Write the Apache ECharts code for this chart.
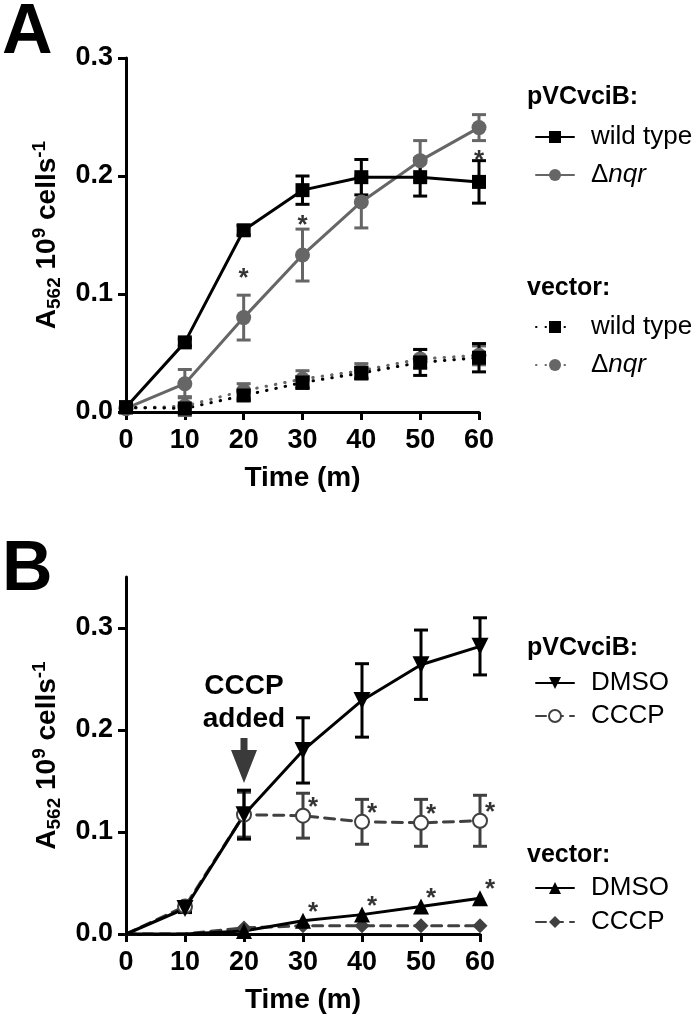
<!DOCTYPE html>
<html>
<head>
<meta charset="utf-8">
<script src="https://cdn.jsdelivr.net/npm/echarts@6/dist/echarts.min.js"></script>
<style>
  html, body { margin: 0; padding: 0; background: #fff; }
  #chart { width: 700px; height: 1020px; }
</style>
</head>
<body>
<div id="chart"></div>
<script>
/* ---------- data ---------- */
const times = [0, 10, 20, 30, 40, 50, 60];
const yTicks = [0, 0.1, 0.2, 0.3];

// panel A
const aPlasWt     = [0.004, 0.059, 0.154, 0.188, 0.199, 0.199, 0.195];
const aPlasWtErr  = [0.002, 0.003, 0.004, 0.012, 0.015, 0.016, 0.018];
const aPlasNqr    = [0.003, 0.024, 0.080, 0.133, 0.178, 0.213, 0.241];
const aPlasNqrErr = [0.002, 0.012, 0.019, 0.022, 0.022, 0.017, 0.011];
const aVecWt      = [0.004, 0.003, 0.014, 0.025, 0.033, 0.042, 0.046];
const aVecWtErr   = [0.002, 0.002, 0.004, 0.005, 0.005, 0.011, 0.012];
const aVecNqr     = [0.003, 0.005, 0.018, 0.028, 0.035, 0.045, 0.048];
const aVecNqrErr  = [0.002, 0.008, 0.006, 0.007, 0.006, 0.008, 0.008];
const starsA      = [[20, 0.119], [30, 0.164], [60, 0.219]];

// panel B
const bPlasDmso     = [0, 0.025, 0.117, 0.180, 0.229, 0.264, 0.282];
const bPlasDmsoErr  = [0, 0.004, 0.024, 0.032, 0.036, 0.034, 0.028];
const bPlasCccp     = [0, 0.027, 0.117, 0.116, 0.110, 0.109, 0.111];
const bPlasCccpErr  = [0, 0.004, 0.022, 0.022, 0.022, 0.023, 0.025];
const bVecDmso      = [0, 0, 0.003, 0.013, 0.019, 0.027, 0.035];
const bVecCccp      = [0, 0, 0.006, 0.008, 0.008, 0.008, 0.008];
const starIdxB      = [3, 4, 5, 6];          // 30..60 min marked *
const arrowAt       = [20, 0.170];           // "CCCP added" arrow

const legendNames = {
  pWT: 'wild type', pNqr: '{d|Δ}{i|nqr}', vWT: 'wild type', vNqr: '{d|Δ}{i|nqr}',
  bpD: 'DMSO', bpC: 'CCCP', bvD: 'DMSO', bvC: 'CCCP'
};

/* ---------- helpers ---------- */
const FONT = '"Liberation Sans", Arial, Helvetica, sans-serif';
const BLACK = '#000', GREY = '#666', DGREY = '#404040';

function pts(vals, hideZero) {
  return times.map((t, i) => (hideZero && vals[i] === 0)
    ? { value: [t, vals[i]], symbol: 'none' }
    : [t, vals[i]]);
}

function errSeries(vals, errs, color, grid) {
  const data = times.map((t, i) => [t, vals[i] - errs[i], vals[i] + errs[i], errs[i]])
                    .filter(d => d[3] > 0.0025);
  return {
    type: 'custom', xAxisIndex: grid, yAxisIndex: grid, z: 1, silent: true,
    encode: { x: 0, y: [1, 2] }, data,
    renderItem: (params, api) => {
      const lo = api.coord([api.value(0), api.value(1)]);
      const hi = api.coord([api.value(0), api.value(2)]);
      const w = 7, st = { stroke: color, lineWidth: 3 };
      return { type: 'group', children: [
        { type: 'line', shape: { x1: lo[0], y1: lo[1], x2: hi[0], y2: hi[1] }, style: st },
        { type: 'line', shape: { x1: lo[0] - w, y1: lo[1], x2: lo[0] + w, y2: lo[1] }, style: st },
        { type: 'line', shape: { x1: hi[0] - w, y1: hi[1], x2: hi[0] + w, y2: hi[1] }, style: st },
      ] };
    }
  };
}

function lineSeries(name, vals, grid, color, symbol, size, dash, extra) {
  return Object.assign({
    name, type: 'line', xAxisIndex: grid, yAxisIndex: grid, z: 3,
    data: pts(vals, grid === 1), symbol, symbolSize: size, showAllSymbol: true,
    clip: false, color,
    lineStyle: { color, width: 3, type: dash || 'solid', cap: 'round' },
    itemStyle: { color },
  }, extra || {});
}

function starSeries(data, grid, offset) {
  return {
    type: 'scatter', xAxisIndex: grid, yAxisIndex: grid, z: 5, silent: true,
    symbolSize: 1, itemStyle: { color: 'rgba(0,0,0,0)' }, data,
    label: { show: true, formatter: '*', position: 'inside', offset,
             fontSize: 26, fontWeight: 'bold', color: '#000', fontFamily: FONT }
  };
}

const axisTxt = { fontSize: 27, fontWeight: 'bold', color: '#000', fontFamily: FONT };

function xAx(grid) {
  return {
    type: 'value', gridIndex: grid, min: 0, max: 60, interval: 10,
    axisLine: { show: true, onZero: false, lineStyle: { color: '#000', width: 3 } },
    axisTick: { show: true, length: 8, lineStyle: { color: '#000', width: 3 } },
    axisLabel: Object.assign({ margin: 15 }, axisTxt),
    splitLine: { show: false },
    name: 'Time (m)', nameLocation: 'middle', nameGap: 52,
    nameTextStyle: { fontSize: 28, fontWeight: 'bold', color: '#000', fontFamily: FONT }
  };
}

function yAx(grid, max) {
  return {
    type: 'value', gridIndex: grid, min: 0, max, interval: 0.1,
    axisLine: { show: true, onZero: false, lineStyle: { color: '#000', width: 3 } },
    axisTick: { show: true, length: 8, lineStyle: { color: '#000', width: 3 }, customValues: yTicks },
    axisLabel: Object.assign({ margin: 13, customValues: yTicks, formatter: v => v.toFixed(1) }, axisTxt),
    splitLine: { show: false },
    name: '{a|A}{s|562}{a| 10}{p|9}{a| cells}{p|-1}',
    nameLocation: 'middle', nameRotate: 90, nameGap: 52,
    nameTextStyle: {
      color: '#000', fontFamily: FONT,
      rich: {
        a: { fontSize: 28, fontWeight: 'bold', lineHeight: 34, color: '#000', fontFamily: FONT },
        s: { fontSize: 19, fontWeight: 'bold', lineHeight: 19, verticalAlign: 'bottom', color: '#000', fontFamily: FONT },
        p: { fontSize: 19, fontWeight: 'bold', lineHeight: 19, verticalAlign: 'top', color: '#000', fontFamily: FONT }
      }
    }
  };
}

function legend(names, top, gap) {
  return {
    data: names, orient: 'vertical', left: 530, top, itemGap: gap,
    itemWidth: 38, itemHeight: 15, selectedMode: false,
    formatter: n => legendNames[n],
    textStyle: {
      fontSize: 26, color: '#000', fontFamily: FONT, padding: [0, 0, 0, 12], lineHeight: 26,
      rich: {
        d: { fontSize: 26, fontFamily: FONT, color: '#000' },
        i: { fontSize: 26, fontStyle: 'italic', fontFamily: FONT, color: '#000' }
      }
    }
  };
}

function label(text, x, y, size) {
  return { type: 'text', x, y, style: { text, fontSize: size, fontWeight: 'bold',
           fontFamily: FONT, fill: '#000', verticalAlign: 'middle' } };
}

/* ---------- chart ---------- */
const chart = echarts.init(document.getElementById('chart'), null, { renderer: 'canvas' });

const arrowPath = 'path://M9.5,0 L16.5,0 L16.5,12 L26,12 L13,45 L0,12 L9.5,12 Z';

chart.setOption({
  animation: false,
  backgroundColor: '#fff',
  grid: [
    { left: 126, top: 58, width: 353, height: 354 },
    { left: 126, top: 577, width: 354, height: 357 }
  ],
  xAxis: [xAx(0), xAx(1)],
  yAxis: [yAx(0, 0.3), yAx(1, 0.35)],
  legend: [
    legend(['pWT', 'pNqr'], 119, 12),
    legend(['vWT', 'vNqr'], 309, 12),
    legend(['bpD', 'bpC'], 665, 7),
    legend(['bvD', 'bvC'], 870, 8)
  ],
  graphic: [
    label('A', 2, 34, 70),
    label('B', 2, 571, 70),
    label('pVCvciB:', 527, 97, 25),
    label('vector:', 527, 288, 25),
    label('pVCvciB:', 527, 648, 25),
    label('vector:', 527, 855, 25)
  ],
  series: [
    // panel A
    errSeries(aVecNqr, aVecNqrErr, GREY, 0),
    errSeries(aVecWt, aVecWtErr, BLACK, 0),
    errSeries(aPlasNqr, aPlasNqrErr, GREY, 0),
    errSeries(aPlasWt, aPlasWtErr, BLACK, 0),
    lineSeries('vNqr', aVecNqr, 0, GREY, 'circle', 15, [0.5, 9]),
    lineSeries('vWT', aVecWt, 0, BLACK, 'rect', 14, [0.5, 9]),
    lineSeries('pNqr', aPlasNqr, 0, GREY, 'circle', 15),
    lineSeries('pWT', aPlasWt, 0, BLACK, 'rect', 14),
    starSeries(starsA, 0, [0, 7]),

    // panel B
    errSeries(bPlasCccp, bPlasCccpErr, DGREY, 1),
    errSeries(bPlasDmso, bPlasDmsoErr, BLACK, 1),
    lineSeries('bvC', bVecCccp, 1, DGREY, 'diamond', 15, [10, 7]),
    lineSeries('bvD', bVecDmso, 1, BLACK, 'triangle', 16),
    lineSeries('bpC', bPlasCccp, 1, DGREY, 'emptyCircle', 14, [10, 7],
               { itemStyle: { color: DGREY, borderWidth: 3.5 } }),
    lineSeries('bpD', bPlasDmso, 1, BLACK, 'triangle', 17, null, {
      symbolRotate: 180,
      markPoint: {
        silent: true,
        data: [{
          coord: arrowAt, symbol: arrowPath, symbolSize: [26, 45], symbolKeepAspect: false,
          itemStyle: { color: '#3a3a3a' },
          label: { show: true, position: 'top', distance: 2, formatter: 'CCCP\nadded',
                   fontSize: 28, lineHeight: 33, fontWeight: 'bold', color: '#000', fontFamily: FONT }
        }]
      }
    }),
    starSeries(starIdxB.map(i => [times[i], bPlasCccp[i]]), 1, [10, -8]),
    starSeries(starIdxB.map(i => [times[i], bVecDmso[i]]), 1, [10, -8])
  ]
});
</script>
</body>
</html>
